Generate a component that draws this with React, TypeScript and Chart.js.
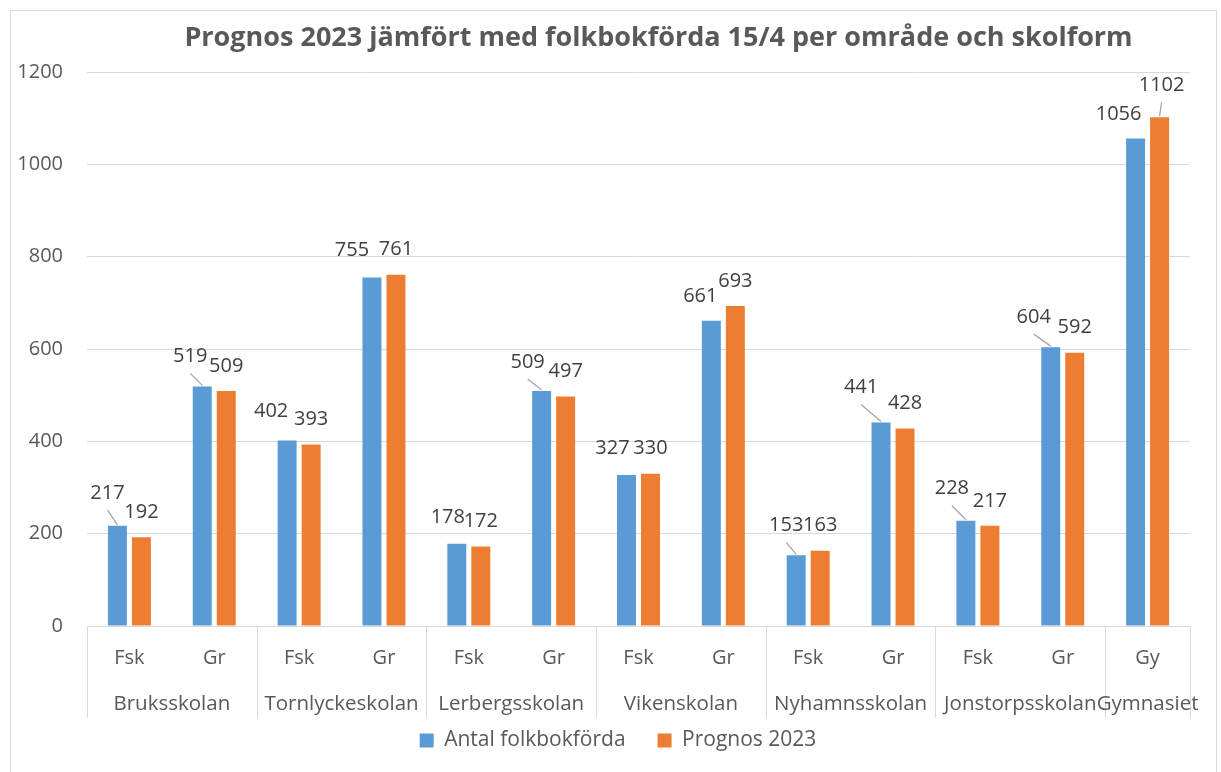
import React, { useEffect, useRef } from "react";
import { Chart, registerables } from "chart.js";

Chart.register(...registerables);

// ---- data ----
const chartTitle = "Prognos 2023 jämfört med folkbokförda 15/4 per område och skolform";
const subCategories = ["Fsk", "Gr", "Fsk", "Gr", "Fsk", "Gr", "Fsk", "Gr", "Fsk", "Gr", "Fsk", "Gr", "Gy"];
const groupNames = ["Bruksskolan", "Tornlyckeskolan", "Lerbergsskolan", "Vikenskolan", "Nyhamnsskolan", "Jonstorpsskolan", "Gymnasiet"];
const groupSpans = [2, 2, 2, 2, 2, 2, 1];
const seriesNames = ["Antal folkbokförda", "Prognos 2023"];
const antalFolkbokforda = [217, 519, 402, 755, 178, 509, 327, 661, 153, 441, 228, 604, 1056];
const prognos2023 = [192, 509, 393, 761, 172, 497, 330, 693, 163, 428, 217, 592, 1102];
const yTickValues = [0, 200, 400, 600, 800, 1000, 1200];

// ---- label placement tweaks (dx, dy, leader line) as Excel moved them ----
const labelNudgeAntal: [number, number, boolean][] = [
  [-10, -8, true], [-12, -5, true], [-16, -4, false], [-20, -2, false], [-9, -2, false],
  [-14, -4, true], [-14, -2, false], [-11, 0, false], [-10, -5, true], [-20, -10, true],
  [-14, -7, true], [-17, -5, true], [-17, 1, false],
];
const labelNudgePrognos: [number, number, boolean][] = [
  [0, 0, false], [0, 0, false], [0, 0, false], [0, 0, false], [0, 0, false],
  [0, 0, false], [0, 0, false], [0, 0, false], [0, 0, false], [0, 0, false],
  [0, 0, false], [0, 0, false], [2, -7, true],
];

const FONT = '"Open Sans", "DejaVu Sans", sans-serif';
const AXIS_COLOR = "#595959";
const LABEL_COLOR = "#404040";
const GRID_COLOR = "#d9d9d9";
const BLUE = "#5B9BD5";
const ORANGE = "#ED7D31";

const titlePlugin = {
  id: "excelTitle",
  afterDraw(chart: any) {
    const { ctx, chartArea } = chart;
    ctx.save();
    ctx.font = `bold 27px ${FONT}`;
    ctx.fillStyle = AXIS_COLOR;
    ctx.textAlign = "center";
    ctx.textBaseline = "middle";
    ctx.fillText(chartTitle, (chartArea.left + chartArea.right) / 2 + 20, 38);
    ctx.restore();
  },
};

// shift the legend so it is centred a little right of the canvas centre, as in Excel
const legendShiftPlugin = {
  id: "legendShift",
  afterLayout(chart: any) {
    if (chart.legend) chart.legend.left += 46;
  },
};

const groupAxisPlugin = {
  id: "groupAxis",
  afterDraw(chart: any) {
    const { ctx, chartArea } = chart;
    const xs = chart.scales.x;
    const half = (xs.getPixelForValue(1) - xs.getPixelForValue(0)) / 2;
    const top = chartArea.bottom;
    const bottom = top + 92;
    ctx.save();
    ctx.strokeStyle = GRID_COLOR;
    ctx.lineWidth = 1;
    const vline = (x: number) => {
      const px = Math.round(x) + 0.5;
      ctx.beginPath();
      ctx.moveTo(px, top);
      ctx.lineTo(px, bottom);
      ctx.stroke();
    };
    vline(xs.getPixelForValue(0) - half);
    ctx.font = `20.5px ${FONT}`;
    ctx.fillStyle = AXIS_COLOR;
    ctx.textAlign = "center";
    ctx.textBaseline = "middle";
    let idx = 0;
    groupNames.forEach((name, g) => {
      const start = idx;
      const end = idx + groupSpans[g] - 1;
      const cx = (xs.getPixelForValue(start) + xs.getPixelForValue(end)) / 2;
      ctx.fillText(name, cx, top + 78);
      vline(xs.getPixelForValue(end) + half);
      idx = end + 1;
    });
    ctx.restore();
  },
};

const dataLabelPlugin = {
  id: "excelDataLabels",
  afterDatasetsDraw(chart: any) {
    const { ctx } = chart;
    const nudges = [labelNudgeAntal, labelNudgePrognos];
    ctx.save();
    ctx.font = `20px ${FONT}`;
    ctx.textAlign = "center";
    ctx.textBaseline = "middle";
    chart.data.datasets.forEach((ds: any, di: number) => {
      const meta = chart.getDatasetMeta(di);
      meta.data.forEach((bar: any, i: number) => {
        const [dx, dy, leader] = nudges[di][i];
        const lx = bar.x + dx;
        const ly = bar.y - 25 + dy;
        if (leader) {
          ctx.strokeStyle = "#a6a6a6";
          ctx.lineWidth = 1.3;
          ctx.beginPath();
          ctx.moveTo(lx, ly + 17);
          ctx.lineTo(bar.x, bar.y - 1);
          ctx.stroke();
        }
        ctx.fillStyle = LABEL_COLOR;
        ctx.fillText(String(ds.data[i]), lx, ly);
      });
    });
    ctx.restore();
  },
};

export default function App() {
  const canvasRef = useRef<HTMLCanvasElement | null>(null);

  useEffect(() => {
    let chart: Chart | null = null;
    let cancelled = false;
    const build = () => {
      if (cancelled || !canvasRef.current) return;
      chart = new Chart(canvasRef.current, {
        type: "bar",
        data: {
          labels: subCategories,
          datasets: [
            {
              label: seriesNames[0],
              data: antalFolkbokforda,
              backgroundColor: BLUE,
              borderWidth: 0,
              barPercentage: 0.79,
              categoryPercentage: 0.566,
            },
            {
              label: seriesNames[1],
              data: prognos2023,
              backgroundColor: ORANGE,
              borderWidth: 0,
              barPercentage: 0.79,
              categoryPercentage: 0.566,
            },
          ],
        },
        options: {
          responsive: false,
          animation: false,
          layout: { padding: { left: 0, right: 31, top: 72, bottom: 11 } },
          scales: {
            x: {
              grid: { display: false },
              border: { display: false },
              ticks: {
                color: AXIS_COLOR,
                font: { family: FONT, size: 20 },
                padding: 12,
                maxRotation: 0,
                autoSkip: false,
              },
              afterFit: (scale: any) => {
                scale.height = 72;
              },
            },
            y: {
              min: 0,
              max: 1200,
              grid: { color: GRID_COLOR, drawTicks: false, lineWidth: 1 },
              border: { display: false },
              ticks: {
                color: AXIS_COLOR,
                font: { family: FONT, size: 20 },
                padding: 24,
                callback: (v: any) => String(v),
              },
              afterBuildTicks: (scale: any) => {
                scale.ticks = yTickValues.map((v) => ({ value: v }));
              },
              afterFit: (scale: any) => {
                scale.width = 87;
              },
            },
          },
          plugins: {
            title: { display: false },
            tooltip: { enabled: false },
            legend: {
              position: "bottom",
              labels: {
                boxWidth: 14,
                boxHeight: 14,
                color: AXIS_COLOR,
                font: { family: FONT, size: 21 },
                padding: 32,
              },
            },
          },
        },
        plugins: [legendShiftPlugin, titlePlugin, groupAxisPlugin, dataLabelPlugin],
      } as any);
    };
    const fontsReady = (document as any).fonts
      ? Promise.all([
          (document as any).fonts.load(`20px "Open Sans"`),
          (document as any).fonts.load(`bold 27px "Open Sans"`),
        ]).catch(() => null)
      : Promise.resolve(null);
    fontsReady.then(build);
    return () => {
      cancelled = true;
      if (chart) chart.destroy();
    };
  }, []);

  return (
    <div
      style={{
        position: "fixed",
        left: 0,
        top: 0,
        width: 1221,
        height: 772,
        background: "#ffffff",
        overflow: "hidden",
      }}
    >
      <div
        style={{
          position: "absolute",
          left: 10,
          top: 10,
          width: 1207,
          height: 770,
          border: `1px solid ${GRID_COLOR}`,
          boxSizing: "border-box",
        }}
      />
      <canvas
        ref={canvasRef}
        width={1221}
        height={772}
        style={{ position: "absolute", left: 0, top: 0, display: "block" }}
      />
    </div>
  );
}
